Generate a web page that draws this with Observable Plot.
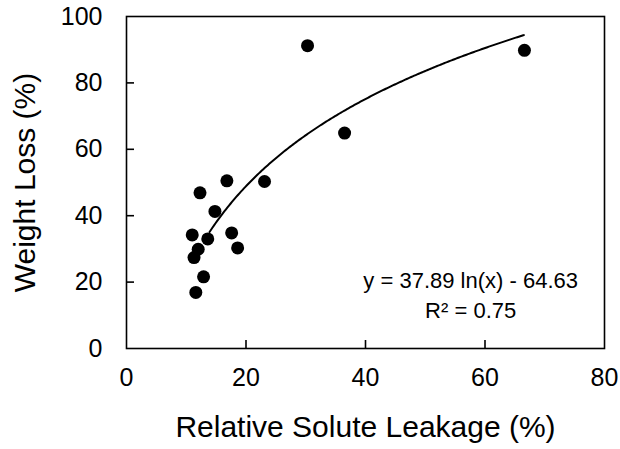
<!DOCTYPE html>
<html><head><meta charset="utf-8">
<script src="https://cdn.jsdelivr.net/npm/d3@7"></script>
<script src="https://cdn.jsdelivr.net/npm/@observablehq/plot@0.6"></script>
<style>body{margin:0;background:#fff;} #chart svg{display:block;}</style>
</head><body><div id="chart"></div>
<script>
const leakage    = [30.3, 66.6, 36.5, 23.1, 16.8, 12.3, 14.8, 11.0, 13.6, 17.6, 18.6, 12.0, 11.3, 12.9, 11.6];
const weightLoss = [91.2, 89.8, 64.9, 50.3, 50.5, 46.9, 41.3, 34.2, 33.0, 34.8, 30.3, 29.9, 27.4, 21.6, 16.9];
const xTicks = [0, 20, 40, 60, 80];
const yTicks = [0, 20, 40, 60, 80, 100];
// Fitted curve y = a ln(x) + b, drawn over the fitted x range
const fitCoef = [37.89, -64.63];
const fitRange = [13.9, 66.5];
const annotations = ["y = 37.89 ln(x) - 64.63", "R\u00B2 = 0.75"];
const annotationX = 57.6;
const annotationY = [20.4, 11.4];
const xTitle = "Relative Solute Leakage (%)";
const yTitle = "Weight Loss (%)";

const points = leakage.map((x, i) => ({x, y: weightLoss[i]}));
const curve = d3.range(fitRange[0], fitRange[1], 0.25).concat([fitRange[1]])
  .map(x => ({x, y: fitCoef[0] * Math.log(x) + fitCoef[1]}));
const notes = annotations.map((t, i) => ({t, x: annotationX, y: annotationY[i]}));
const innerX = xTicks.slice(1, -1);
const innerY = yTicks.slice(1, -1);

const font = "'Liberation Sans', Arial, Helvetica, sans-serif";
const W = 620, H = 449, mL = 126, mR = 16, mT = 16, mB = 101, tick = 8;

const chart = Plot.plot({
  width: W,
  height: H,
  marginLeft: mL,
  marginRight: mR,
  marginTop: mT,
  marginBottom: mB,
  style: {fontFamily: font, background: "#fff", color: "#000"},
  x: {domain: [0, 80]},
  y: {domain: [0, 100]},
  marks: [
    Plot.axisX(xTicks, {tickSize: 0, tickPadding: 20, fontSize: 25, label: null}),
    Plot.axisY(yTicks, {tickSize: 0, tickPadding: 24, fontSize: 25, label: null}),
    Plot.frame({stroke: "#000", strokeWidth: 1.6}),
    Plot.tickX(innerX, {x: d => d, insetTop: (H - mT - mB) - tick, stroke: "#000", strokeWidth: 1.6}),
    Plot.tickY(innerY, {y: d => d, insetRight: (W - mL - mR) - tick, stroke: "#000", strokeWidth: 1.6}),
    Plot.line(curve, {x: "x", y: "y", stroke: "#000", strokeWidth: 2}),
    Plot.dot(points, {x: "x", y: "y", r: 6.5, fill: "#000", stroke: "none"}),
    Plot.text(notes, {x: "x", y: "y", text: "t", fontSize: 22, fill: "#000"}),
    Plot.text([xTitle], {frameAnchor: "bottom", textAnchor: "middle", lineAnchor: "middle", dy: 79, fontSize: 30, fill: "#000"}),
    Plot.text([yTitle], {frameAnchor: "left", textAnchor: "middle", lineAnchor: "middle", rotate: -90, dx: -101, fontSize: 30, fill: "#000"})
  ]
});
document.getElementById("chart").appendChild(chart);
</script>
</body></html>
